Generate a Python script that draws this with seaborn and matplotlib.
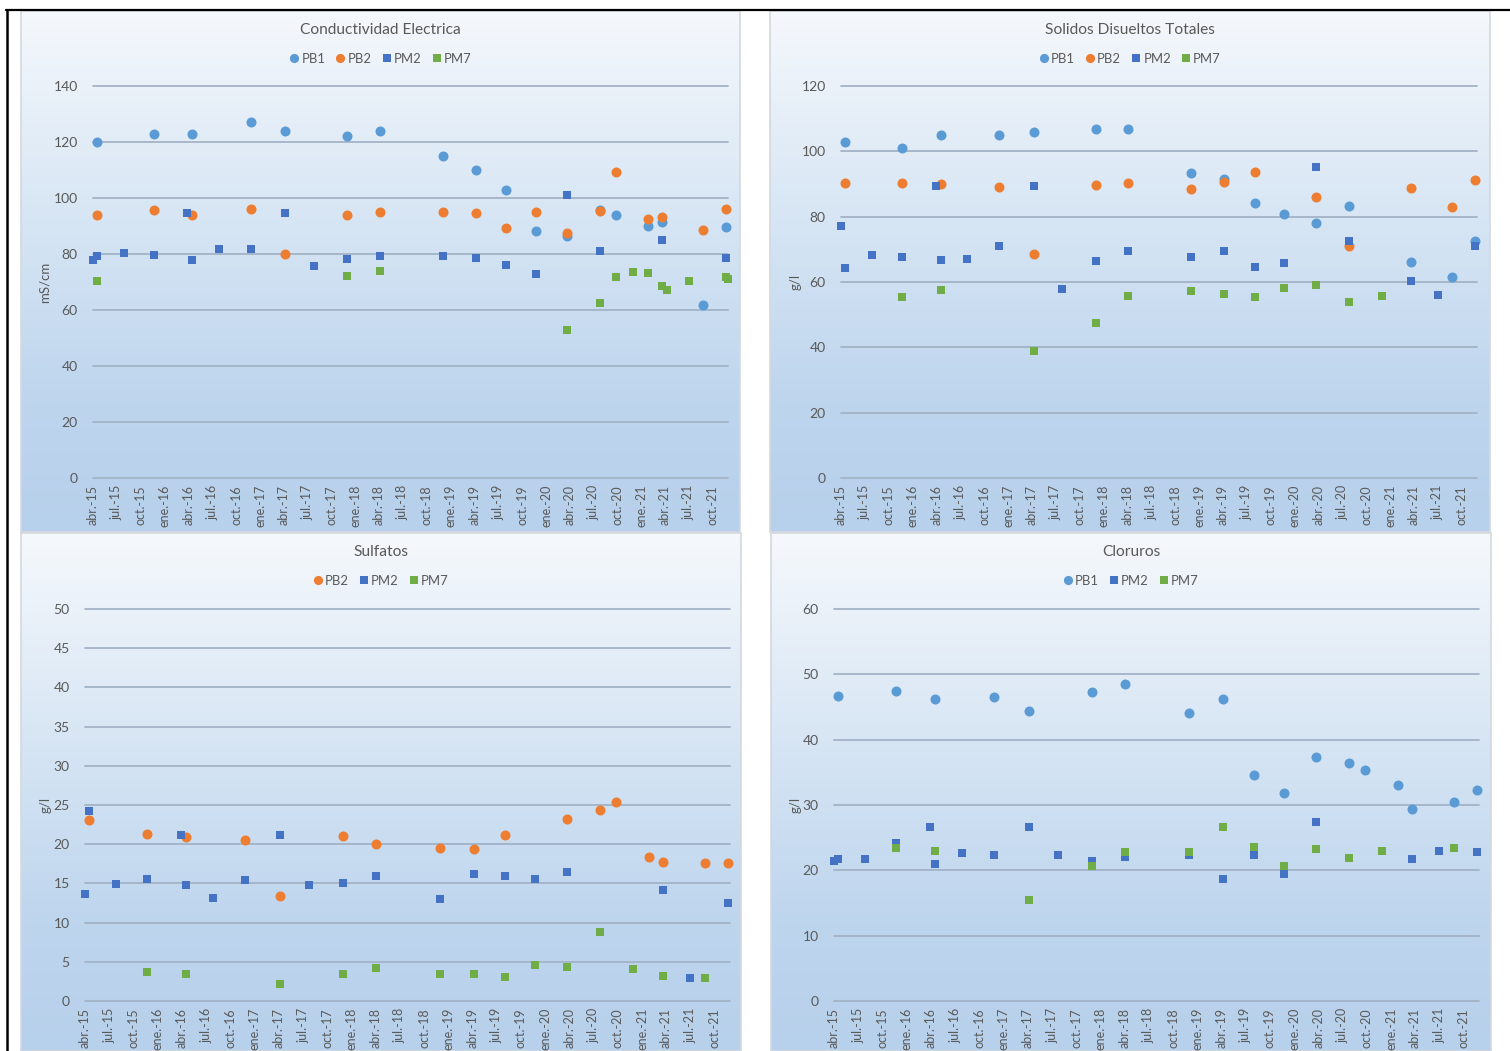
import numpy as np
import pandas as pd
import matplotlib
matplotlib.use("Agg")
import matplotlib.pyplot as plt
from matplotlib.lines import Line2D
from matplotlib.patches import Rectangle
from matplotlib.colors import LinearSegmentedColormap
import seaborn as sns

nan = np.nan

# Sampling campaigns (shared date axis of the four panels)
CAMPAIGNS = ["2015-04-01", "2015-04-15", "2015-07-27", "2015-11-19", "2016-03-28",
             "2016-04-16", "2016-07-25", "2016-11-26", "2017-04-07", "2017-07-25",
             "2017-12-01", "2018-04-04", "2018-12-01", "2019-04-07", "2019-08-01",
             "2019-11-22", "2020-03-22", "2020-07-25", "2020-09-25", "2020-11-28",
             "2021-01-25", "2021-03-22", "2021-04-10", "2021-07-01", "2021-08-25",
             "2021-11-22", "2021-11-28"]

# Conductividad eléctrica (mS/cm)
CE_PB1 = [nan, 120, nan, 123, nan, 123, nan, 127, 124, nan, 122, 124, 115, 110, 103, 88.3, 86.3,
          95.8, 94, nan, 90, 91.5, nan, nan, 61.7, 89.5, nan]
CE_PB2 = [nan, 93.8, nan, 95.8, nan, 93.9, nan, 96, 80, nan, 93.9, 95, 95, 94.5, 89.2, 95, 87.4,
          95.2, 109.2, nan, 92.6, 93.2, nan, nan, 88.6, 96.2, nan]
CE_PM2 = [78, 79.2, 80.2, 79.5, 94.6, 77.9, 81.9, 81.9, 94.6, 75.8, 78.2, 79.3, 79.2, 78.6, 76.2,
          73, 101.2, 81.2, nan, nan, nan, 85, nan, nan, nan, 78.5, nan]
CE_PM7 = [nan, 70.5, nan, nan, nan, nan, nan, nan, nan, nan, 72.3, 74.1, nan, nan, nan, nan, 52.7,
          62.5, 71.8, 73.6, 73.2, 68.6, 67, 70.4, nan, 71.8, 70.9]

# Sólidos disueltos totales (g/l)
SDT_PB1 = [nan, 102.8, nan, 100.9, nan, 104.9, nan, 104.9, 105.9, nan, 106.8, 106.8, 93.5, 91.5,
           84.1, 80.7, 78.1, 83.3, nan, nan, nan, 66.0, nan, nan, 61.6, 72.7, nan]
SDT_PB2 = [nan, 90.2, nan, 90.2, nan, 89.9, nan, 89, 68.6, nan, 89.6, 90.2, 88.4, 90.6, 93.6, nan,
           86.1, 71.1, nan, nan, nan, 88.7, nan, nan, 83, 91.2, nan]
SDT_PM2 = [77.1, 64.2, 68.2, 67.7, 89.5, 66.6, 66.9, 71, 89.5, 58, 66.3, 69.5, 67.7, 69.6, 64.6,
           65.7, 95.1, 72.6, nan, nan, nan, 60.3, nan, 56.1, nan, 71, nan]
SDT_PM7 = [nan, nan, nan, 55.5, nan, 57.7, nan, nan, 38.8, nan, 47.3, 55.6, 57.3, 56.3, 55.4, 58.2,
           59, 54, nan, 55.6, nan, nan, nan, nan, nan, nan, nan]

# Sulfatos (g/l)
SO4_PB2 = [nan, 23.15, nan, 21.3, nan, 20.9, nan, 20.55, 13.45, nan, 21.1, 20.05, 19.5, 19.4, 21.2,
           nan, 23.2, 24.4, 25.4, nan, 18.4, 17.7, nan, nan, 17.6, 17.6, nan]
SO4_PM2 = [13.7, 24.2, 14.9, 15.6, 21.2, 14.8, 13.1, 15.45, 21.15, 14.85, 15, 15.9, 13, 16.25, 16,
           15.5, 16.4, nan, nan, nan, nan, 14.2, nan, 2.9, nan, 12.5, nan]
SO4_PM7 = [nan, nan, nan, 3.75, nan, 3.4, nan, nan, 2.2, nan, 3.4, 4.2, 3.5, 3.5, 3.1, 4.6, 4.4,
           8.8, nan, 4.1, nan, 3.2, nan, nan, 2.9, nan, nan]

# Cloruros (g/l)
CL_PB1 = [nan, 46.7, nan, 47.4, nan, 46.2, nan, 46.5, 44.4, nan, 47.3, 48.5, 44.1, 46.2, 34.6,
          31.8, 37.4, 36.5, 35.4, nan, 33.1, 29.4, nan, nan, 30.4, 32.3, nan]
CL_PM2 = [21.5, 21.8, 21.8, 24.2, 26.7, 21, 22.6, 22.4, 26.7, 22.4, 21.4, 22, 22.4, 18.7, 22.4,
          19.5, 27.4, nan, nan, nan, nan, 21.8, nan, 23, nan, 22.8, nan]
CL_PM7 = [nan, nan, nan, 23.4, nan, 23, nan, nan, 15.5, nan, 20.7, 22.8, 22.8, 26.7, 23.5, 20.6,
          23.2, 21.9, nan, 23, nan, nan, nan, nan, 23.4, nan, nan]

TITLES = ["Conductividad Electrica", "Solidos Disueltos Totales", "Sulfatos", "Cloruros"]
YLABELS = ["mS/cm", "g/l", "g/l", "g/l"]
MONTHS_ES = {1: "ene.", 4: "abr.", 7: "jul.", 10: "oct."}

COLORS = {"PB1": "#5B9BD5", "PB2": "#ED7D31", "PM2": "#4472C4", "PM7": "#70AD47"}
MARKERS = {"PB1": "o", "PB2": "o", "PM2": "s", "PM7": "s"}
SIZES = {"o": 52, "s": 34}
GREY = "#595959"
GRID = "#A3B3C6"

sns.set_theme(style="white")
plt.rcParams["font.family"] = ["Lato", "DejaVu Sans"]

W, H = 1510, 1051
fig = plt.figure(figsize=(W / 100, H / 100), dpi=100)
fig.patch.set_facecolor("white")


def fx(px):
    return px / W


def fy(py):
    return 1 - py / H


grad_cmap = LinearSegmentedColormap.from_list(
    "panel", [(0.0, "#F5F8FC"), (0.45, "#D3E3F3"), (0.75, "#BED5EE"), (1.0, "#B7D0EB")])

panels = [
    dict(series=[("PB1", CE_PB1), ("PB2", CE_PB2), ("PM2", CE_PM2), ("PM7", CE_PM7)],
         ymax=140, ystep=20, box=(21, 11, 740, 532), plot=(93, 86, 728, 478), top=11, ylab_x=45),
    dict(series=[("PB1", SDT_PB1), ("PB2", SDT_PB2), ("PM2", SDT_PM2), ("PM7", SDT_PM7)],
         ymax=120, ystep=20, box=(770, 11, 1490, 532), plot=(841, 86, 1477, 478), top=11, ylab_x=796),
    dict(series=[("PB2", SO4_PB2), ("PM2", SO4_PM2), ("PM7", SO4_PM7)],
         ymax=50, ystep=5, box=(21, 533, 741, 1051), plot=(85, 609, 730, 1001), top=533, ylab_x=46),
    dict(series=[("PB1", CL_PB1), ("PM2", CL_PM2), ("PM7", CL_PM7)],
         ymax=60, ystep=10, box=(771, 533, 1491, 1051), plot=(834, 609, 1479, 1001), top=533, ylab_x=796),
]

dates = pd.to_datetime(CAMPAIGNS)
xticks = pd.date_range("2015-04-01", "2021-10-01", freq="3MS")
xlabels = [f"{MONTHS_ES[d.month]}-{d.strftime('%y')}" for d in xticks]

for i, p in enumerate(panels):
    x0, y0, x1, y1 = p["box"]
    # gradient background of the chart area
    bg = fig.add_axes([fx(x0), fy(y1), (x1 - x0) / W, (y1 - y0) / H], zorder=0)
    frac = (y1 - y0) / 521.0
    grad = np.linspace(0, frac, 256).reshape(-1, 1)
    bg.imshow(grad, aspect="auto", cmap=grad_cmap, vmin=0, vmax=1,
              extent=[0, 1, 0, 1], origin="upper")
    bg.set_xlim(0, 1)
    bg.set_ylim(0, 1)
    bg.axis("off")
    bg.add_patch(Rectangle((0, 0), 1, 1, transform=bg.transAxes, fill=False,
                           edgecolor="#D4D8DD", lw=1.2, clip_on=False))

    px0, py0, px1, py1 = p["plot"]
    ax = fig.add_axes([fx(px0), fy(py1), (px1 - px0) / W, (py1 - py0) / H], zorder=2)
    ax.patch.set_alpha(0)

    handles = []
    for name, vals in p["series"]:
        df = pd.DataFrame({"fecha": dates, "valor": vals}).dropna()
        m = MARKERS[name]
        sns.scatterplot(data=df, x="fecha", y="valor", ax=ax, marker=m,
                        s=SIZES[m], color=COLORS[name], linewidth=0, zorder=3)
        handles.append(Line2D([], [], ls="", marker=m, color=COLORS[name],
                              markersize=6.6 if m == "o" else 5.6, markeredgewidth=0))
    for coll in ax.collections:
        coll.set_clip_on(False)

    ax.set_xlim(dates[0], dates[-1])
    ax.set_ylim(0, p["ymax"])
    ax.set_yticks(np.arange(0, p["ymax"] + 0.1, p["ystep"]))
    ax.set_xticks(xticks)
    ax.set_xticklabels(xlabels, rotation=90, fontsize=9, color=GREY)
    ax.tick_params(axis="y", labelsize=10, labelcolor=GREY, length=0, pad=11)
    ax.tick_params(axis="x", length=0, pad=5)
    ax.set_xlabel("")
    ax.set_ylabel(YLABELS[i], fontsize=9.5, color=GREY)
    ax.yaxis.set_label_coords((p["ylab_x"] - px0) / (px1 - px0), 0.5)
    ax.yaxis.label.set_va("center")
    for s in ax.spines.values():
        s.set_visible(False)
    ax.grid(axis="y", color=GRID, lw=1.3)
    ax.grid(axis="x", visible=False)
    ax.set_axisbelow(True)
    for gl in ax.get_ygridlines():
        gl.set_clip_on(False)

    cx = (x0 + x1) / 2
    fig.text(fx(cx), fy(p["top"] + 19), TITLES[i], ha="center", va="center",
             fontsize=11.2, color=GREY)
    fig.legend(handles, [n for n, _ in p["series"]], loc="center",
               bbox_to_anchor=(fx(cx), fy(p["top"] + 48)), ncol=len(handles),
               frameon=False, fontsize=9.4, labelcolor=GREY, handlelength=0.7,
               handletextpad=0.2, columnspacing=0.8, borderpad=0)

# page frame around the figure block
fig.add_artist(Line2D([fx(6), 1], [fy(10), fy(10)], color="black", lw=1.6, zorder=5))
fig.add_artist(Line2D([fx(7), fx(7)], [fy(10), 0], color="black", lw=1.8, zorder=5))

fig.savefig("out.png", dpi=100, facecolor="white")
